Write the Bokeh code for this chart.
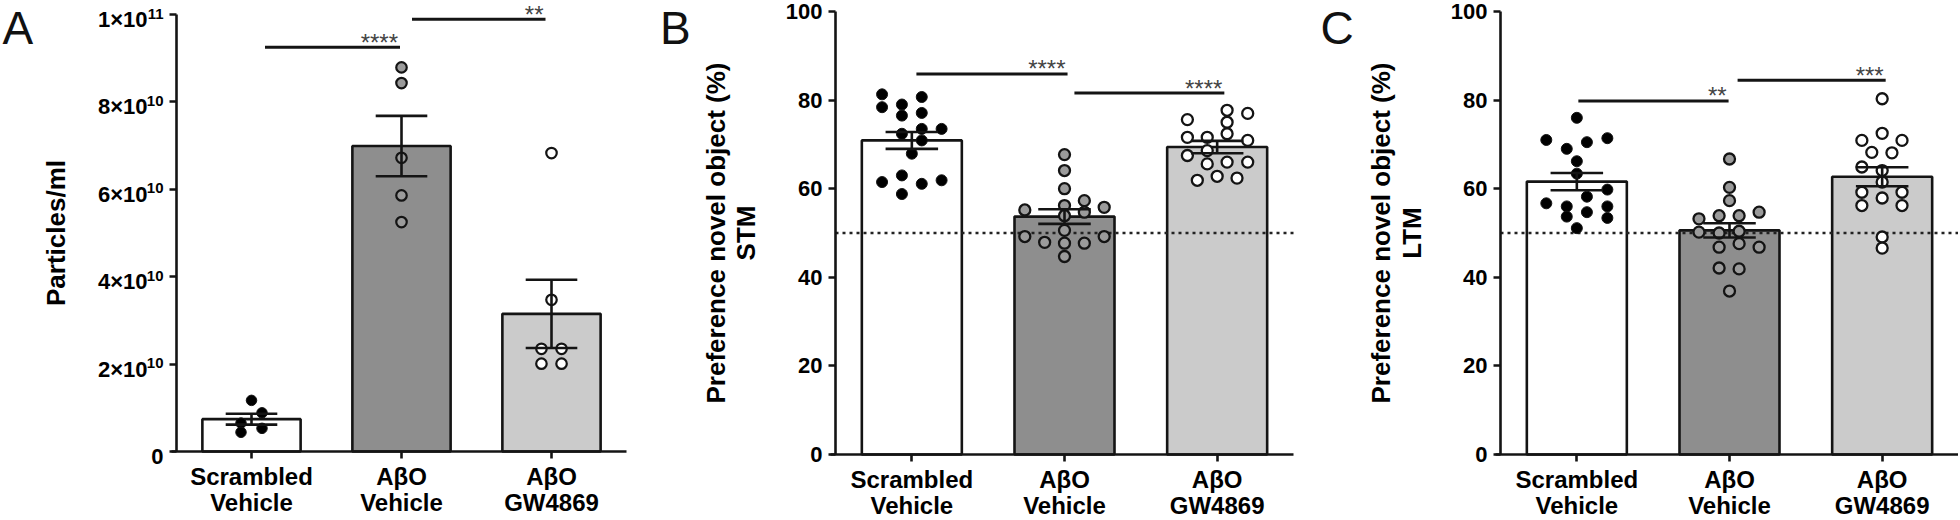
import math
from bokeh.plotting import figure
from bokeh.layouts import row
from bokeh.models import Range1d, FixedTicker, LinearAxis
from bokeh.embed import file_html
from bokeh.resources import INLINE
from bokeh.core.properties import value

# ---------------- data ----------------
categories = ["Scrambled\nVehicle", "AβO\nVehicle", "AβO\nGW4869"]
cat_x = [0.5, 1.5, 2.5]
x_lo, x_hi = 0, 3

# Panel A: particles/ml, expressed in units of 1e10
a_means = [0.74, 6.99, 3.15]
a_sem = [0.125, 0.69, 0.78]
a_scr = [1.17, 0.885, 0.65, 0.44, 0.53]
a_scr_dx = [0.0, 0.07, -0.07, -0.07, 0.07]
a_abo = [8.79, 8.43, 6.72, 5.86, 5.25]
a_abo_dx = [0.0, 0.0, 0.0, 0.0, 0.0]
a_gw = [6.83, 3.47, 2.35, 2.35, 2.01, 2.01]
a_gw_dx = [0.0, 0.0, -0.067, 0.067, -0.067, 0.067]
a_ticks = [0, 2, 4, 6, 8, 10]
a_tick_base = ["0", "2×10", "4×10", "6×10", "8×10", "1×10"]
a_tick_exp = ["", "10", "10", "10", "10", "11"]
a_sig_x0 = [0.59, 1.57]
a_sig_x1 = [1.49, 2.46]
a_sig_y = [9.25, 9.89]
a_sig_text = ["****", "**"]

# Panel B: preference novel object (%) STM
b_means = [70.9, 53.7, 69.4]
b_sem = [1.9, 1.65, 1.4]
b_scr = [81.3, 78.4, 61.5, 79.0, 76.5, 72.4, 63.0, 58.8,
         80.7, 77.1, 73.5, 70.9, 61.1, 73.5, 61.9, 67.9]
b_scr_dx = [-0.195, -0.195, -0.195, -0.065, -0.065, -0.065, -0.065, -0.065,
            0.065, 0.065, 0.065, 0.065, 0.065, 0.195, 0.195, 0.0]
b_abo = [67.7, 64.1, 60.0, 56.2, 57.3, 55.2, 54.7, 55.8,
         53.9, 50.6, 49.2, 49.2, 47.9, 47.7, 47.7, 44.7]
b_abo_dx = [0.0, 0.0, 0.0, 0.0, 0.13, -0.26, 0.13, 0.26,
            0.0, 0.0, -0.26, 0.26, -0.13, 0.0, 0.13, 0.0]
b_gw = [77.7, 77.0, 75.6, 75.0, 72.4, 71.6, 71.6, 70.9,
        68.6, 67.5, 65.6, 66.0, 66.0, 61.9, 62.8, 62.4]
b_gw_dx = [0.065, 0.2, -0.195, 0.065, 0.065, -0.195, -0.065, 0.2,
           -0.065, -0.195, -0.065, 0.065, 0.2, -0.13, 0.0, 0.13]
b_sig_x0 = [0.53, 1.565]
b_sig_x1 = [1.52, 2.547]
b_sig_y = [85.9, 81.6]
b_sig_text = ["****", "****"]

# Panel C: preference novel object (%) LTM
c_means = [61.6, 50.6, 62.7]
c_sem = [1.95, 1.6, 2.15]
c_scr = [76.0, 71.0, 71.4, 69.0, 70.5, 66.2, 63.4, 59.8,
         58.2, 56.7, 56.0, 56.0, 54.7, 53.7, 53.4, 51.1]
c_scr_dx = [0.0, -0.2, 0.2, -0.066, 0.066, 0.0, 0.0, 0.2,
            0.066, -0.2, -0.066, 0.2, 0.066, -0.066, 0.2, 0.0]
c_abo = [66.7, 60.3, 57.3, 53.2, 53.9, 53.9, 54.7, 50.2,
         50.4, 46.8, 47.6, 46.8, 42.1, 41.9, 36.9, 50.0]
c_abo_dx = [0.0, 0.0, 0.0, -0.2, -0.068, 0.063, 0.194, -0.2,
            0.063, -0.068, 0.063, 0.194, -0.068, 0.063, 0.0, -0.068]
c_gw = [80.3, 72.5, 70.9, 70.9, 68.2, 68.1, 64.9, 64.1,
        61.5, 59.2, 59.2, 57.9, 56.2, 56.2, 49.1, 46.6]
c_gw_dx = [0.0, 0.0, -0.133, 0.13, -0.068, 0.064, -0.133, 0.0,
           0.0, -0.133, 0.13, 0.0, -0.133, 0.13, 0.0, 0.0]
c_sig_x0 = [0.51, 1.553]
c_sig_x1 = [1.494, 2.523]
c_sig_y = [79.8, 84.5]
c_sig_text = ["**", "***"]

pct_ticks = [0, 20, 40, 60, 80, 100]
pct_tick_base = [str(t) for t in pct_ticks]
pct_tick_exp = ["" for t in pct_ticks]
chance_level = 50

# ---------------- styles / layout ----------------
FONT = "Liberation Sans"
INK = "#141414"
BAR_FILLS = ["#ffffff", "#8e8e8e", "#cbcbcb"]
PT_FILLS = ["#000000", "#9b9b9b", "#ffffff"]
HEIGHT = 518
BAR_W = 0.655
CAP_HALF = 0.172
TICK_LEN = 7
LETTER_CENTER = 27      # canvas offset of the panel letter's centre


def make_panel(width, axis_left, frame_w, top_off, zero_off, ymax, ticks,
               tick_base, tick_exp, means, sem, groups, sig, letter, letter_dx,
               ylabel_lines, ylabel_dx, pt_size, pt_line, chance=None):
    ppx = frame_w / (x_hi - x_lo)
    ppy = (zero_off - top_off) / ymax
    x_rng = Range1d(x_lo - axis_left / ppx,
                    x_hi + (width - axis_left - frame_w) / ppx)
    y_rng = Range1d(-(HEIGHT - zero_off) / ppy, ymax + top_off / ppy)
    p = figure(width=width, height=HEIGHT, x_range=x_rng, y_range=y_rng,
               output_backend="svg", toolbar_location=None,
               x_axis_location=None, y_axis_location=None, min_border=0)
    p.outline_line_color = None
    p.background_fill_color = "white"
    p.border_fill_color = "white"
    p.xgrid.visible = False
    p.ygrid.visible = False

    # axes drawn at the data origin
    xax = LinearAxis(fixed_location=0, bounds=(x_lo - 5 / ppx, x_hi),
                     ticker=FixedTicker(ticks=cat_x),
                     major_label_overrides={c: t for c, t in zip(cat_x, categories)})
    yax = LinearAxis(fixed_location=x_lo, bounds=(0, ymax),
                     ticker=FixedTicker(ticks=ticks),
                     major_label_overrides={t: "" for t in ticks})
    for ax in (xax, yax):
        ax.axis_line_width = 2.6
        ax.axis_line_color = INK
        ax.major_tick_line_width = 2.6
        ax.major_tick_line_color = INK
        ax.major_tick_out = TICK_LEN
        ax.major_tick_in = 0
        ax.minor_tick_out = 0
        ax.minor_tick_in = 0
        ax.major_label_text_font = FONT
        ax.major_label_text_font_style = "bold"
        ax.major_label_text_color = "#000000"
    xax.major_label_text_font_size = "24px"
    xax.major_label_text_line_height = 0.98
    xax.major_label_standoff = 4
    p.add_layout(xax, "below")
    p.add_layout(yax, "left")

    # y tick labels (with optional superscript exponent)
    exp_w = 16
    gap = TICK_LEN + 6
    has_exp = any(tick_exp)
    base_x = [x_lo - (gap + (exp_w if e else 0)) / ppx for e in tick_exp]
    base_y = [t - (5 if has_exp else 0) / ppy for t in ticks]
    p.text(x=base_x, y=base_y, text=tick_base, text_align="right",
           text_baseline="middle", text_font=value(FONT), text_font_style="bold",
           text_font_size="22px", text_color="#000000")
    exp_t = [t for t, e in zip(ticks, tick_exp) if e]
    exp_s = [e for e in tick_exp if e]
    if exp_s:
        p.text(x=[x_lo - gap / ppx] * len(exp_s), y=[t + 1 / ppy for t in exp_t],
               text=exp_s, text_align="right", text_baseline="middle",
               text_font=value(FONT), text_font_style="bold",
               text_font_size="15px", text_color="#000000")

    # bars
    p.vbar(x=cat_x, top=means, bottom=0, width=BAR_W, fill_color=BAR_FILLS,
           line_color=INK, line_width=2.6)
    # chance line
    if chance is not None:
        p.segment(x0=[x_lo], y0=[chance], x1=[x_hi], y1=[chance],
                  line_color="#222222", line_width=2.5, line_dash="3 4")

    # individual points
    for (vals, dxs), fc, ci in zip(groups, PT_FILLS, cat_x):
        lw = 1 if fc == "#000000" else pt_line
        p.scatter(x=[ci + d for d in dxs], y=vals, size=pt_size,
                  fill_color=fc, line_color=INK, line_width=lw)

    # SEM error bars
    lo = [m - s for m, s in zip(means, sem)]
    hi = [m + s for m, s in zip(means, sem)]
    p.segment(x0=cat_x, y0=lo, x1=cat_x, y1=hi, line_color=INK, line_width=2.6)
    for ends in (lo, hi):
        p.segment(x0=[c - CAP_HALF for c in cat_x], y0=ends,
                  x1=[c + CAP_HALF for c in cat_x], y1=ends,
                  line_color=INK, line_width=2.6)

    # significance bars
    x0s, x1s, ys, texts = sig
    p.segment(x0=x0s, y0=ys, x1=x1s, y1=ys, line_color=INK, line_width=3)
    p.text(x=[x - 2 / ppx for x in x1s], y=[y + 5 / ppy for y in ys], text=texts,
           text_align="right", text_baseline="middle", text_font=value(FONT),
           text_font_size="24px", text_color="#444444")

    # panel letter
    p.text(x=[x_lo + letter_dx / ppx], y=[ymax + (top_off - LETTER_CENTER) / ppy],
           text=[letter], text_align="left", text_baseline="middle",
           text_font=value(FONT), text_font_size="46px", text_color="#111111")
    # y-axis title (one or two lines)
    p.text(x=[x_lo + d / ppx for d in ylabel_dx], y=[ymax / 2] * len(ylabel_lines),
           text=ylabel_lines, angle=math.pi / 2, text_align="center",
           text_baseline="middle", text_font=value(FONT), text_font_style="bold",
           text_font_size="26px", text_color="#000000")
    return p


pa = make_panel(650, 176, 450, 14, 451, 10, a_ticks, a_tick_base, a_tick_exp,
                a_means, a_sem,
                [(a_scr, a_scr_dx), (a_abo, a_abo_dx), (a_gw, a_gw_dx)],
                (a_sig_x0, a_sig_x1, a_sig_y, a_sig_text),
                "A", -174, ["Particles/ml"], [-121], 10.5, 2.2)
pb = make_panel(660, 185, 458, 11, 454, 100, pct_ticks, pct_tick_base, pct_tick_exp,
                b_means, b_sem,
                [(b_scr, b_scr_dx), (b_abo, b_abo_dx), (b_gw, b_gw_dx)],
                (b_sig_x0, b_sig_x1, b_sig_y, b_sig_text),
                "B", -175.5, ["Preference novel object (%)", "STM"], [-119.5, -89.5],
                11, 2.3, chance=chance_level)
pc = make_panel(648, 190, 458, 11, 454, 100, pct_ticks, pct_tick_base, pct_tick_exp,
                c_means, c_sem,
                [(c_scr, c_scr_dx), (c_abo, c_abo_dx), (c_gw, c_gw_dx)],
                (c_sig_x0, c_sig_x1, c_sig_y, c_sig_text),
                "C", -180, ["Preference novel object (%)", "LTM"], [-119.5, -89],
                11, 2.3, chance=chance_level)

layout = row(pa, pb, pc)
open("out.html", "w").write(file_html(layout, INLINE))
